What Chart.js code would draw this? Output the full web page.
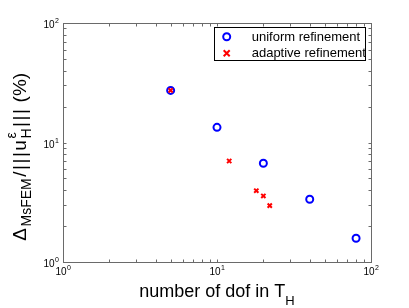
<!DOCTYPE html>
<html>
<head>
<meta charset="utf-8">
<script src="https://cdn.jsdelivr.net/npm/chart.js@4/dist/chart.umd.min.js"></script>
<style>
  html, body { margin: 0; padding: 0; background: #fff; }
  #wrap { width: 409px; height: 308px; position: relative; }
</style>
</head>
<body>
<div id="wrap"><canvas id="c" width="409" height="308"></canvas></div>
<script>
// ---- data ----
const uniformX = [5, 10, 20, 40, 80];
const uniformY = [27.3, 13.4, 6.7, 3.35, 1.58];
const adaptiveX = [5, 12, 18, 20, 22];
const adaptiveY = [27.3, 7.0, 3.95, 3.57, 2.96];
const seriesLabels = ['uniform refinement', 'adaptive refinement'];
const tickValues = [1, 10, 100];
const tickBase = '10';
const tickExponents = ['0', '1', '2'];
const xTitleMain = 'number of dof in T';
const xTitleSub = 'H';
const yTitleParts = [
  { t: '\u0394', k: 'n' },
  { t: 'MsFEM', k: 'sub' },
  { t: '/', k: 'n' },
  { t: '|||', k: 'bars' },
  { t: 'u', k: 'n' },
  { t: 'H', k: 'sub', pair: '\u03b5' },
  { t: '|||', k: 'bars' },
  { t: ' (%)', k: 'n' }
];

const FONT = '"Liberation Sans", Arial, Helvetica, sans-serif';
const AXIS_COLOR = '#6a6a6a';

const toPts = (xs, ys) => xs.map((v, i) => ({ x: v, y: ys[i] }));

const matlabPlugin = {
  id: 'matlabLook',
  beforeDraw(chart) {
    const ctx = chart.ctx;
    ctx.save();
    ctx.fillStyle = '#fff';
    ctx.fillRect(0, 0, chart.width, chart.height);
    ctx.restore();
  },
  beforeDatasetsDraw(chart) {
    const { ctx, chartArea: a, scales: { x, y } } = chart;
    ctx.save();
    ctx.strokeStyle = AXIS_COLOR;
    ctx.lineWidth = 1;
    const L = Math.round(a.left) + 0.5, R = Math.round(a.right) + 0.5;
    const T = Math.round(a.top) + 0.5, B = Math.round(a.bottom) + 0.5;
    ctx.strokeRect(L, T, R - L, B - T);
    const vals = [];
    for (const d of [1, 10]) for (let k = 1; k <= 9; k++) vals.push(k * d);
    vals.push(100);
    const tl = 3;
    ctx.beginPath();
    for (const v of vals) {
      const px = Math.round(x.getPixelForValue(v)) + 0.5;
      ctx.moveTo(px, B); ctx.lineTo(px, B - tl);
      ctx.moveTo(px, T); ctx.lineTo(px, T + tl);
      const py = Math.round(y.getPixelForValue(v)) + 0.5;
      ctx.moveTo(L, py); ctx.lineTo(L + tl, py);
      ctx.moveTo(R, py); ctx.lineTo(R - tl, py);
    }
    ctx.stroke();

    // tick labels
    ctx.fillStyle = '#000';
    const big = 10, small = 7;
    tickValues.forEach((v, i) => {
      const px = x.getPixelForValue(v);
      ctx.font = big + 'px ' + FONT;
      const wb = ctx.measureText(tickBase).width;
      ctx.font = small + 'px ' + FONT;
      const we = ctx.measureText(tickExponents[i]).width;
      const x0 = px - (wb + we) / 2;
      ctx.textBaseline = 'alphabetic';
      ctx.textAlign = 'left';
      ctx.font = big + 'px ' + FONT;
      ctx.fillText(tickBase, x0, 275);
      ctx.font = small + 'px ' + FONT;
      ctx.fillText(tickExponents[i], x0 + wb + 0.5, 270);
      const py = y.getPixelForValue(v);
      const rx = 59;
      ctx.font = small + 'px ' + FONT;
      ctx.fillText(tickExponents[i], rx - we, py);
      ctx.font = big + 'px ' + FONT;
      ctx.fillText(tickBase, rx - we - 0.5 - wb, py + 5);
    });

    // x title
    const tf = 18, sf = 13;
    ctx.font = tf + 'px ' + FONT;
    const wm = ctx.measureText(xTitleMain).width;
    ctx.font = sf + 'px ' + FONT;
    const ws = ctx.measureText(xTitleSub).width;
    const cx = (a.left + a.right) / 2;
    const xs = cx - (wm + ws) / 2;
    ctx.font = tf + 'px ' + FONT;
    ctx.fillText(xTitleMain, xs, 297);
    ctx.font = sf + 'px ' + FONT;
    ctx.fillText(xTitleSub, xs + wm, 305);

    // y title (rotated)
    const yf = 19, ysf = 14, partGap = 1.5, barGap = 1.5;
    const pieces = [];
    yTitleParts.forEach(p => {
      const size = p.k === 'sub' ? ysf : yf;
      const dy = p.k === 'sub' ? 5 : 0;
      ctx.font = size + 'px ' + FONT;
      if (p.k === 'bars') {
        for (const c of p.t) pieces.push({ c, size, dy, w: ctx.measureText(c).width + barGap });
      } else {
        let w = ctx.measureText(p.t).width;
        if (p.pair) w = Math.max(w, ctx.measureText(p.pair).width);
        pieces.push({ c: p.t, size, dy, w: w + partGap, pair: p.pair });
      }
    });
    const total = pieces.reduce((s, g) => s + g.w, 0);
    ctx.save();
    ctx.translate(25.5, 156);
    ctx.rotate(-Math.PI / 2);
    let pos = -total / 2;
    pieces.forEach(g => {
      ctx.font = g.size + 'px ' + FONT;
      ctx.fillText(g.c, pos, g.dy);
      if (g.pair) ctx.fillText(g.pair, pos, -10);
      pos += g.w;
    });
    ctx.restore();
    ctx.restore();
  },
  afterDatasetsDraw(chart) {
    const { ctx } = chart;
    ctx.save();
    const bx = 214.5, by = 27.5, bw = 151, bh = 33;
    ctx.fillStyle = '#fff';
    ctx.fillRect(bx, by, bw, bh);
    ctx.strokeStyle = '#000';
    ctx.lineWidth = 1;
    ctx.strokeRect(bx, by, bw, bh);
    const rows = [36.7, 53.3];
    chart.data.datasets.forEach((ds, i) => {
      const my = rows[i];
      const mx = 226.7;
      ctx.save();
      ctx.strokeStyle = ds.borderColor;
      ctx.lineWidth = ds.borderWidth;
      ctx.beginPath();
      if (ds.pointStyle === 'circle') {
        ctx.arc(mx, my, ds.pointRadius, 0, Math.PI * 2);
      } else {
        const r = ds.pointRadius;
        ctx.moveTo(mx - r, my - r); ctx.lineTo(mx + r, my + r);
        ctx.moveTo(mx - r, my + r); ctx.lineTo(mx + r, my - r);
      }
      ctx.stroke();
      ctx.restore();
      ctx.fillStyle = '#000';
      ctx.font = '13px ' + FONT;
      ctx.textBaseline = 'middle';
      ctx.textAlign = 'left';
      ctx.fillText(ds.label, 251.7, my + 0.5);
    });
    ctx.restore();
  }
};

new Chart(document.getElementById('c'), {
  type: 'scatter',
  data: {
    datasets: [
      {
        label: seriesLabels[0],
        data: toPts(uniformX, uniformY),
        pointStyle: 'circle',
        pointRadius: 3.5,
        pointHoverRadius: 3.5,
        borderWidth: 2,
        borderColor: '#0000ff',
        backgroundColor: 'rgba(0,0,0,0)',
        showLine: false,
        order: 2
      },
      {
        label: seriesLabels[1],
        data: toPts(adaptiveX, adaptiveY),
        pointStyle: 'crossRot',
        pointRadius: 3,
        pointHoverRadius: 3,
        borderWidth: 2,
        borderColor: '#ff0000',
        backgroundColor: '#ff0000',
        showLine: false,
        order: 1
      }
    ]
  },
  options: {
    responsive: false,
    animation: false,
    devicePixelRatio: 1,
    layout: { padding: { left: 63, right: 38, top: 23, bottom: 46 } },
    plugins: { legend: { display: false }, tooltip: { enabled: false } },
    scales: {
      x: { type: 'logarithmic', min: 1, max: 100, display: false },
      y: { type: 'logarithmic', min: 1, max: 100, display: false }
    }
  },
  plugins: [matlabPlugin]
});
</script>
</body>
</html>
